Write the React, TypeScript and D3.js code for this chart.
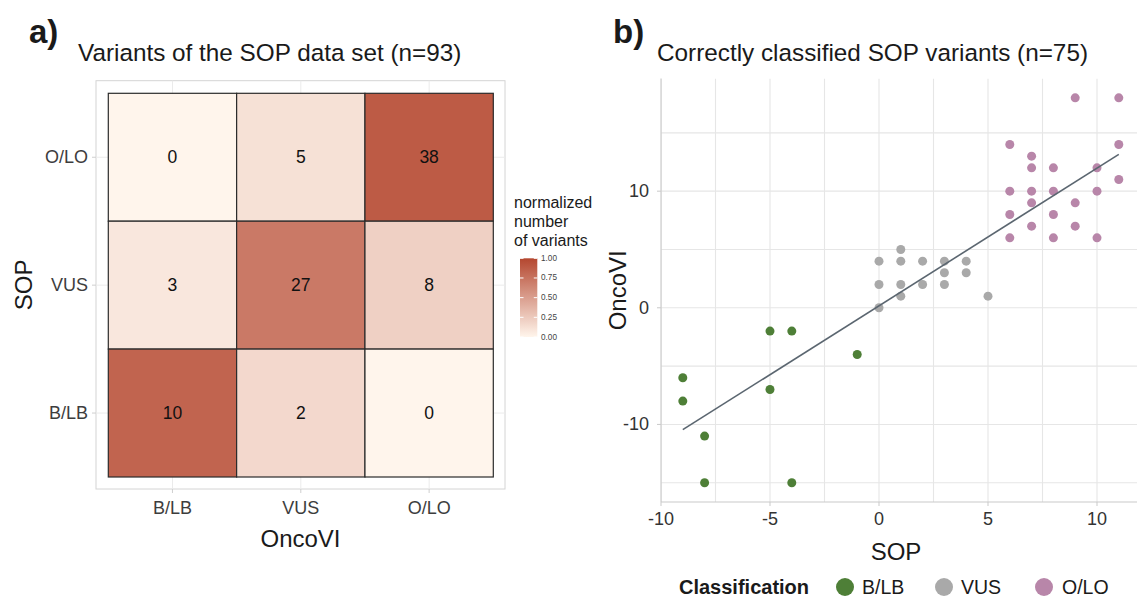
import React from "react";
import * as d3 from "d3";

// ---------- data ----------
const categories = ["B/LB", "VUS", "O/LO"];
// rows = SOP class, columns = OncoVI class (B/LB, VUS, O/LO)
const sopBLB = [10, 2, 0];
const sopVUS = [3, 27, 8];
const sopOLO = [0, 5, 38];

const legendTicks = [0, 0.25, 0.5, 0.75, 1];

const blbX = [-9, -9, -8, -8, -5, -4, -5, -4, -1];
const blbY = [-6, -8, -11, -15, -2, -2, -7, -15, -4];
const vusX = [0, 0, 0, 1, 1, 1, 1, 2, 2, 3, 3, 3, 4, 4, 5];
const vusY = [4, 2, 0, 5, 4, 2, 1, 4, 2, 4, 3, 2, 4, 3, 1];
const oloX = [9, 11, 6, 11, 7, 7, 8, 10, 11, 6, 7, 8, 10, 7, 9, 6, 8, 7, 9, 6, 8, 10];
const oloY = [18, 18, 14, 14, 13, 12, 12, 12, 11, 10, 10, 10, 10, 9, 9, 8, 8, 7, 7, 6, 6, 6];

const fitSlope = 1.18;
const fitIntercept = 0.17;
const fitRange = [-9, 11];

const xTicks = [-10, -5, 0, 5, 10];
const yTicks = [-10, 0, 10];

const classColors = { "B/LB": "#4e7f37", VUS: "#a9a9a9", "O/LO": "#b886a9" };

const FONT = "'Liberation Sans', Arial, Helvetica, sans-serif";

export default function App() {
  // ---------- heatmap ----------
  const rows = [
    { sop: "O/LO", vals: sopOLO },
    { sop: "VUS", vals: sopVUS },
    { sop: "B/LB", vals: sopBLB },
  ];
  const hx = d3.scaleBand<string>().domain(categories).range([108.3, 493.3]);
  const hy = d3.scaleBand<string>().domain(["O/LO", "VUS", "B/LB"]).range([93.3, 477]);
  const fill = d3.scaleLinear<string>().domain([0, 1]).range(["#fff5ec", "#b4472f"]).interpolate(d3.interpolateRgb);
  const hPanel = { x0: 96, x1: 505, y0: 80.7, y1: 489 };

  const lgY = d3.scaleLinear().domain([0, 1]).range([337, 258.3]);
  const gradStops = d3.range(0, 1.01, 0.1);

  // ---------- scatter ----------
  const sx = d3.scaleLinear().domain([-10, 12]).range([661, 1140.6]);
  const sy = d3.scaleLinear().domain([-16.65, 19.65]).range([502, 78.6]);
  const xGrid = d3.range(-10, 12.01, 2.5);
  const yGrid = d3.range(-15, 19.01, 5);
  const line = d3.line<number>().x((v) => sx(v)).y((v) => sy(fitSlope * v + fitIntercept));

  const pts: { x: number; y: number; c: string }[] = [];
  blbX.forEach((v, i) => pts.push({ x: v, y: blbY[i], c: classColors["B/LB"] }));
  vusX.forEach((v, i) => pts.push({ x: v, y: vusY[i], c: classColors.VUS }));
  oloX.forEach((v, i) => pts.push({ x: v, y: oloY[i], c: classColors["O/LO"] }));

  const legendItems = [
    { label: "B/LB", cx: 845, tx: 862 },
    { label: "VUS", cx: 944, tx: 961 },
    { label: "O/LO", cx: 1044, tx: 1062 },
  ];

  return (
    <svg
      width={1137}
      height={599}
      style={{ position: "absolute", left: 0, top: 0, background: "#fff" }}
      fontFamily={FONT}
    >
      <defs>
        <linearGradient id="lg" x1="0" y1="1" x2="0" y2="0">
          {gradStops.map((s) => (
            <stop key={s} offset={s} stopColor={fill(s)} />
          ))}
        </linearGradient>
        <clipPath id="sclip">
          <rect x={sx(-10)} y={sy(19.65)} width={sx(12) - sx(-10)} height={sy(-16.65) - sy(19.65)} />
        </clipPath>
      </defs>

      {/* ---------- panel a ---------- */}
      <text x={29} y={43} fontSize={33} fontWeight="bold" fill="#1a1a1a">a)</text>
      <text x={78} y={61} fontSize={24.3} fill="#1a1a1a">Variants of the SOP data set (n=93)</text>

      <rect x={hPanel.x0} y={hPanel.y0} width={hPanel.x1 - hPanel.x0} height={hPanel.y1 - hPanel.y0} fill="#fff" stroke="#d4d4d4" strokeWidth={1} />
      {categories.map((c) => (
        <g key={"hg" + c}>
          <line x1={hx(c)! + hx.bandwidth() / 2} x2={hx(c)! + hx.bandwidth() / 2} y1={hPanel.y0} y2={hPanel.y1} stroke="#ebebeb" />
          <line x1={hPanel.x0} x2={hPanel.x1} y1={hy(c)! + hy.bandwidth() / 2} y2={hy(c)! + hy.bandwidth() / 2} stroke="#ebebeb" />
        </g>
      ))}
      {rows.map((r) => {
        const tot = d3.sum(r.vals);
        return r.vals.map((v, j) => {
          const c = categories[j];
          return (
            <g key={r.sop + c}>
              <rect x={hx(c)} y={hy(r.sop)} width={hx.bandwidth()} height={hy.bandwidth()} fill={fill(v / tot)} stroke="#2b2b2b" strokeWidth={1.2} />
              <text x={hx(c)! + hx.bandwidth() / 2} y={hy(r.sop)! + hy.bandwidth() / 2} textAnchor="middle" dominantBaseline="central" fontSize={17.5} fill="#111">
                {v}
              </text>
            </g>
          );
        });
      })}
      {categories.map((c) => (
        <g key={"hx" + c}>
          <line x1={hx(c)! + hx.bandwidth() / 2} x2={hx(c)! + hx.bandwidth() / 2} y1={hPanel.y1} y2={hPanel.y1 + 4} stroke="#cfcfcf" />
          <text x={hx(c)! + hx.bandwidth() / 2} y={508} textAnchor="middle" dominantBaseline="central" fontSize={18} fill="#3d3d3d">{c}</text>
          <line x1={hPanel.x0 - 4} x2={hPanel.x0} y1={hy(c)! + hy.bandwidth() / 2} y2={hy(c)! + hy.bandwidth() / 2} stroke="#cfcfcf" />
          <text x={88} y={hy(c)! + hy.bandwidth() / 2} textAnchor="end" dominantBaseline="central" fontSize={18} fill="#3d3d3d">{c}</text>
        </g>
      ))}
      <text x={(hPanel.x0 + hPanel.x1) / 2} y={538} textAnchor="middle" dominantBaseline="central" fontSize={24} fill="#1a1a1a">OncoVI</text>
      <text transform={`translate(23, ${(hPanel.y0 + hPanel.y1) / 2}) rotate(-90)`} textAnchor="middle" dominantBaseline="central" fontSize={24} fill="#1a1a1a">SOP</text>

      {/* heatmap legend */}
      <text fontSize={16} fill="#1a1a1a">
        <tspan x={514} y={208}>normalized</tspan>
        <tspan x={514} y={227}>number</tspan>
        <tspan x={514} y={246}>of variants</tspan>
      </text>
      <rect x={520} y={258.3} width={17.3} height={78.7} fill="url(#lg)" />
      {legendTicks.map((t) => (
        <g key={"lt" + t}>
          <line x1={520} x2={523.5} y1={lgY(t)} y2={lgY(t)} stroke="#fff" strokeWidth={1} />
          <line x1={533.8} x2={537.3} y1={lgY(t)} y2={lgY(t)} stroke="#fff" strokeWidth={1} />
          <text x={541} y={lgY(t)} dominantBaseline="central" fontSize={8.2} fill="#444">{t.toFixed(2)}</text>
        </g>
      ))}

      {/* ---------- panel b ---------- */}
      <text x={613} y={43} fontSize={33} fontWeight="bold" fill="#1a1a1a">b)</text>
      <text x={657} y={61} fontSize={24.3} fill="#1a1a1a">Correctly classified SOP variants (n=75)</text>

      <g clipPath="url(#sclip)">
        {xGrid.map((g) => (
          <line key={"xg" + g} x1={sx(g)} x2={sx(g)} y1={sy(19.65)} y2={sy(-16.65)} stroke="#e6e6e6" strokeWidth={1.1} />
        ))}
        {yGrid.map((g) => (
          <line key={"yg" + g} x1={sx(-10)} x2={sx(12)} y1={sy(g)} y2={sy(g)} stroke="#e6e6e6" strokeWidth={1.1} />
        ))}
      </g>
      <line x1={sx(-10)} x2={sx(-10)} y1={sy(19.65)} y2={sy(-16.65)} stroke="#c9c9c9" strokeWidth={1.1} />
      <line x1={sx(-10)} x2={1137} y1={sy(-16.65)} y2={sy(-16.65)} stroke="#c9c9c9" strokeWidth={1.1} />

      {pts.map((p, i) => (
        <circle key={"p" + i} cx={sx(p.x)} cy={sy(p.y)} r={4.5} fill={p.c} />
      ))}
      <path d={line(fitRange) ?? ""} fill="none" stroke="#5b6670" strokeWidth={1.6} />

      {xTicks.map((t) => (
        <g key={"xt" + t}>
          <line x1={sx(t)} x2={sx(t)} y1={sy(-16.65)} y2={sy(-16.65) + 4} stroke="#c9c9c9" />
          <text x={sx(t)} y={519} textAnchor="middle" dominantBaseline="central" fontSize={18} fill="#333">{t < 0 ? "-" + Math.abs(t) : t}</text>
        </g>
      ))}
      {yTicks.map((t) => (
        <g key={"yt" + t}>
          <line x1={sx(-10) - 4} x2={sx(-10)} y1={sy(t)} y2={sy(t)} stroke="#c9c9c9" />
          <text x={649} y={sy(t)} textAnchor="end" dominantBaseline="central" fontSize={18} fill="#333">{t < 0 ? "-" + Math.abs(t) : t}</text>
        </g>
      ))}
      <text x={(sx(-10) + 1137) / 2 - 3} y={551} textAnchor="middle" dominantBaseline="central" fontSize={24} fill="#1a1a1a">SOP</text>
      <text transform={`translate(617, ${(sy(19.65) + sy(-16.65)) / 2}) rotate(-90)`} textAnchor="middle" dominantBaseline="central" fontSize={24} fill="#1a1a1a">OncoVI</text>

      {/* class legend */}
      <text x={679} y={587} dominantBaseline="central" fontSize={20} fontWeight="bold" fill="#1a1a1a">Classification</text>
      {legendItems.map((it) => (
        <g key={"li" + it.label}>
          <circle cx={it.cx} cy={587} r={9} fill={classColors[it.label as keyof typeof classColors]} />
          <text x={it.tx} y={587} dominantBaseline="central" fontSize={19.5} fill="#1a1a1a">{it.label}</text>
        </g>
      ))}
    </svg>
  );
}
